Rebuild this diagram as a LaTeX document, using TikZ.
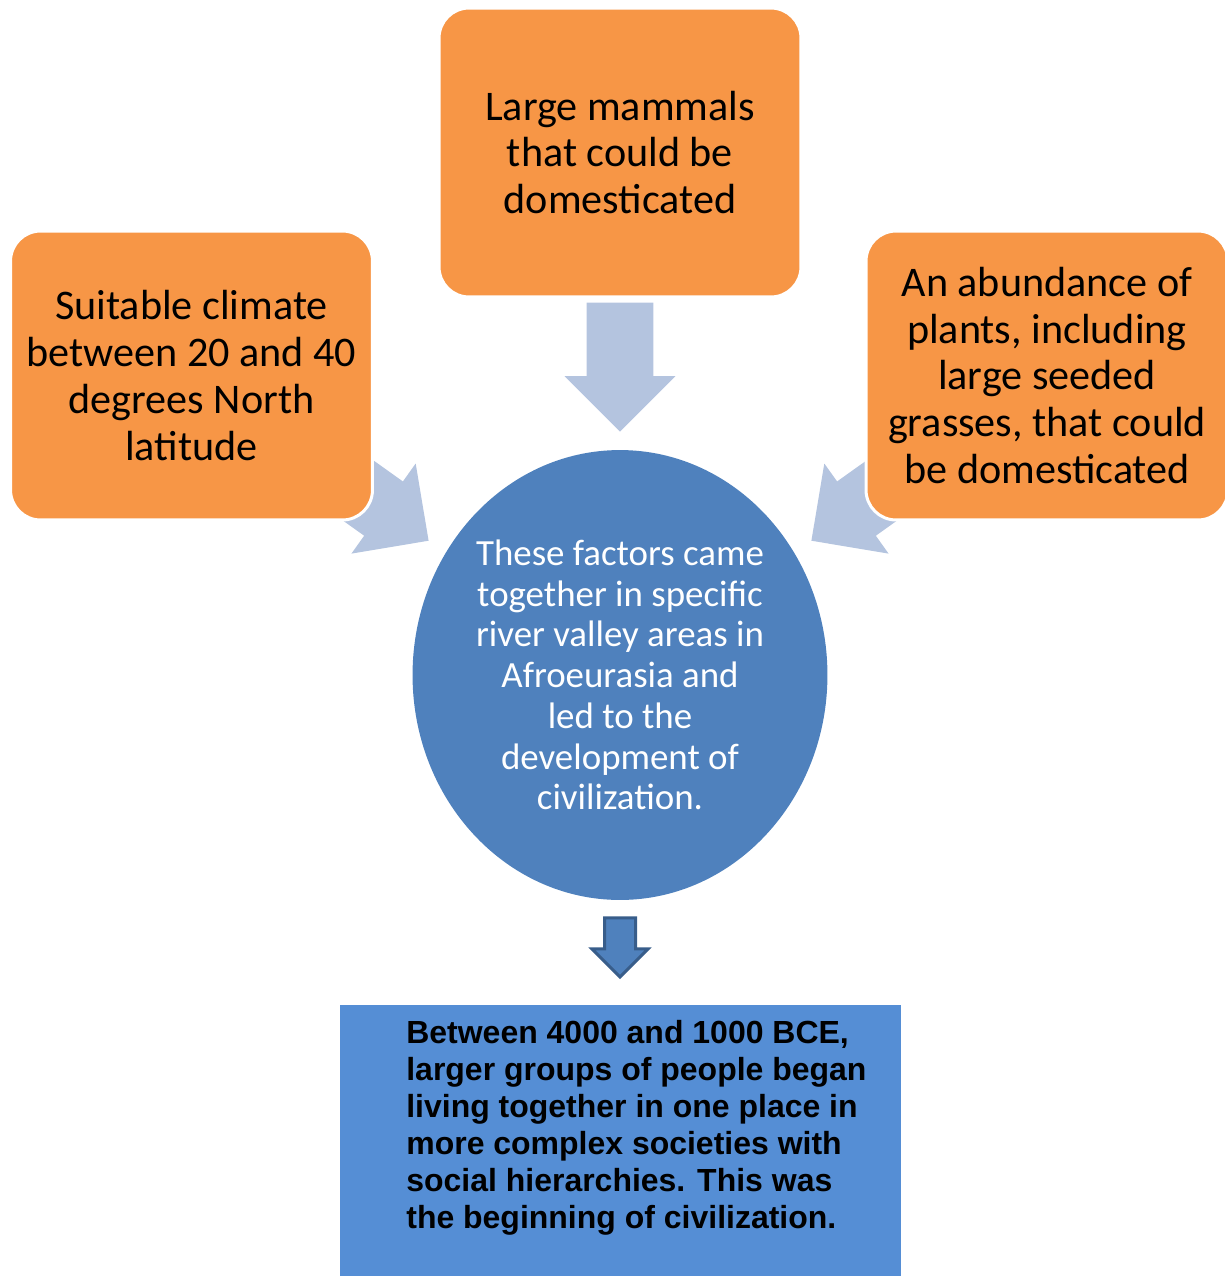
\documentclass[tikz,border=0pt]{standalone}
\usepackage{fontspec}
\setmainfont{Carlito}
\newfontfamily\arialfont{Liberation Sans}
\usetikzlibrary{shapes.geometric,shapes.arrows}
\definecolor{factororange}{HTML}{F79646}
\definecolor{feedblue}{HTML}{B4C4DF}
\definecolor{hubblue}{HTML}{4F81BD}
\definecolor{hubedge}{HTML}{385D8A}
\definecolor{resultblue}{HTML}{558ED5}
\tikzset{%
  factor/.style={
    rectangle,
    rounded corners=0.6cm,
    fill=factororange,
    draw=white,
    line width=0.06cm,
    minimum width=7.24cm,
    minimum height=5.78cm,
    align=center,
    font=\fontsize{24}{26.6}\selectfont
  },
  feed arrow/.style={
    single arrow,
    fill=feedblue,
    inner xsep=0pt,
    inner ysep=0.66cm,
    minimum height=2.58cm,
    single arrow head extend=0.44cm,
    anchor=tip
  },
  hub/.style={
    ellipse,
    fill=hubblue,
    minimum width=8.3cm,
    minimum height=9cm,
    inner sep=0pt,
    align=center,
    text=white,
    font=\fontsize{21}{23.2}\selectfont
  },
  result/.style={
    rectangle,
    fill=resultblue,
    minimum width=11.22cm,
    minimum height=5.42cm
  },
}

\begin{document}
\begin{tikzpicture}[x=0.02cm, y=-0.02cm]

\useasboundingbox (0,0) rectangle (1225,1276);

\foreach \n/\x/\y/\a in {top/620/432/-90, left/429/541/-35.5, right/811/541/-144.5}
  \node [feed arrow, rotate=\a] (feed-\n) at (\x,\y) {};

\node [factor] (mammals) at (620,152.5) {Large mammals\\that could be\\domesticated};
\node [factor] (climate) at (191.5,375.5) {Suitable climate\\between 20 and 40\\degrees North\\latitude};
\node [factor] (plants) at (1047,375.5) {An abundance of\\plants, including\\large seeded\\grasses, that could\\be domesticated};

\node [hub] (valleys) at (620,675) {These factors came\\together in specific\\river valley areas in\\Afroeurasia and\\led to the\\development of\\civilization.};

\node [single arrow, rotate=-90, anchor=tip, fill=hubblue, draw=hubedge, line width=0.06cm,
  inner xsep=0pt, inner ysep=0.28cm, minimum height=1.18cm,
  single arrow head extend=0.25cm] (lead) at (620,979) {};

\node [result] (civilization) at (620.5,1140.5) {};
\node [anchor=north west, inner sep=0pt, align=left,
  font=\arialfont\bfseries\fontsize{18.2}{21.05}\selectfont] (civtext) at (406,1020)
  {Between 4000 and 1000 BCE,\\larger groups of people began\\living together in one place in\\more complex societies with\\social hierarchies. This was\\the beginning of civilization.};

\end{tikzpicture}
\end{document}
